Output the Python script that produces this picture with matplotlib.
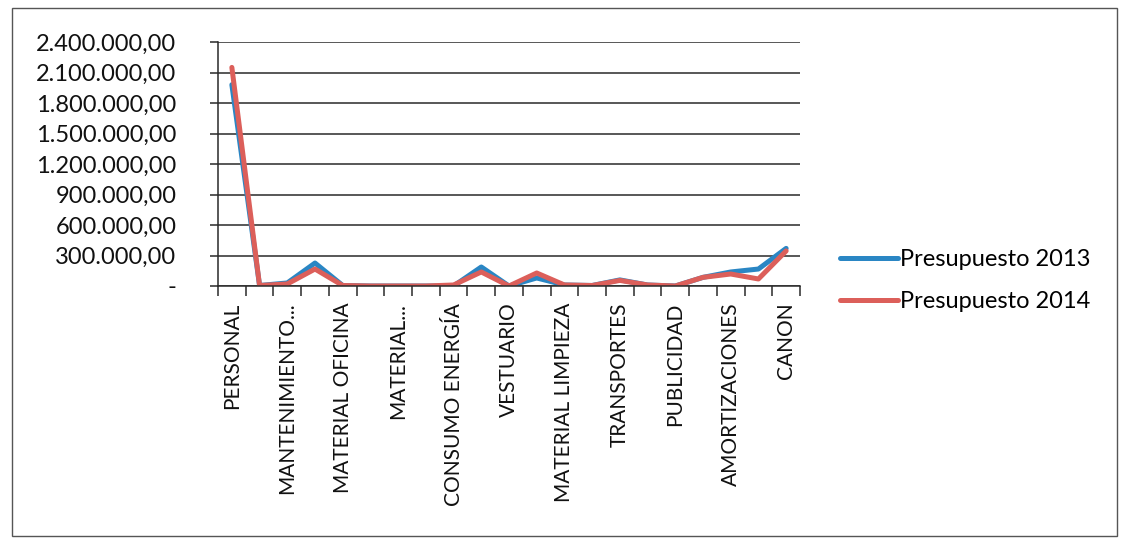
import matplotlib
matplotlib.use('Agg')
import matplotlib.pyplot as plt
from matplotlib.ticker import FuncFormatter, MultipleLocator, FixedLocator
from matplotlib.patches import Rectangle

plt.rcParams['font.family'] = ['Lato', 'DejaVu Sans']

# 21 categories, Excel only shows every other label
labels = ['PERSONAL', 'MANTENIMIENTO...', 'MATERIAL OFICINA', 'MATERIAL...',
          'CONSUMO ENERGÍA', 'VESTUARIO', 'MATERIAL LIMPIEZA', 'TRANSPORTES',
          'PUBLICIDAD', 'AMORTIZACIONES', 'CANON']
presupuesto_2013 = [1980000, 5000, 30000, 226000, 5000, 0, 0, 0, 0, 187000, 0,
                    79000, 10000, 5000, 60000, 10000, 0, 85000, 138000, 167000, 370000]
presupuesto_2014 = [2150000, 5000, 20000, 167000, 5000, 0, 0, 0, 10000, 138000, 0,
                    128000, 10000, 5000, 55000, 10000, 0, 85000, 118000, 69000, 345000]

x = list(range(len(presupuesto_2013)))

fig = plt.figure(figsize=(11.23, 5.44), dpi=100)
ax = fig.add_axes([218/1123, 258/544, 582/1123, 244/544])

ax.plot(x, presupuesto_2013, color='#2a86c4', lw=3.6, label='Presupuesto 2013',
        solid_joinstyle='round', solid_capstyle='round')
ax.plot(x, presupuesto_2014, color='#dc5f5a', lw=3.6, label='Presupuesto 2014',
        solid_joinstyle='round', solid_capstyle='round')

ax.set_xlim(-0.5, len(x) - 0.5)
ax.set_ylim(0, 2400000)

def fmt(v, pos):
    if v == 0:
        return '-'
    s = f'{v:,.2f}'
    return s.replace(',', 'X').replace('.', ',').replace('X', '.')

ax.yaxis.set_major_locator(MultipleLocator(300000))
ax.yaxis.set_major_formatter(FuncFormatter(fmt))
ax.grid(axis='y', color='#2a2a2a', lw=1.1)
ax.set_axisbelow(True)

ax.set_xticks(x[::2])
ax.set_xticklabels(labels, rotation=90, va='top', ha='center')
ax.xaxis.set_minor_locator(FixedLocator([i - 0.5 for i in range(len(x) + 1)]))
ax.tick_params(axis='x', which='major', length=0, pad=12, labelsize=15, colors='#111111')
ax.tick_params(axis='x', which='minor', length=7, width=1.1, color='#2a2a2a')
ax.tick_params(axis='y', length=6, width=1.1, color='#2a2a2a', labelsize=17,
               pad=24, labelcolor='#111111')

for side in ['top', 'right']:
    ax.spines[side].set_visible(False)
ax.spines['left'].set_color('#2a2a2a')
ax.spines['bottom'].set_color('#2a2a2a')
ax.spines['left'].set_linewidth(1.1)
ax.spines['bottom'].set_linewidth(1.1)

ax.legend(loc='center left', bbox_to_anchor=(1.033, 0.0225), frameon=False,
          fontsize=17, handlelength=2.45, handletextpad=0.08, labelspacing=0.9)

fig.add_artist(Rectangle((12/1123, 8/544), 1105/1123, 528/544, transform=fig.transFigure,
                         fill=False, ec='#555555', lw=1.0))

fig.savefig('out.png', dpi=100)
